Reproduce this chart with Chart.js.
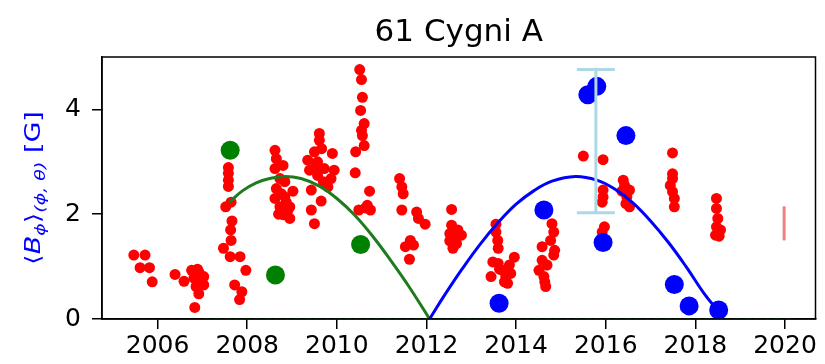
<!DOCTYPE html>
<html>
<head>
<meta charset="utf-8">
<script src="https://cdn.jsdelivr.net/npm/chart.js@4.4.1/dist/chart.umd.min.js"></script>
<style>
  html, body { margin: 0; padding: 0; background: #fff; }
  #chart { display: block; }
</style>
</head>
<body>
<canvas id="chart" width="825" height="364"></canvas>
<script>
// magnetic field measurements (small red dots)
const redYears = [
    2005.47, 2005.72, 2005.61, 2005.82, 2005.88, 2006.39, 2006.59, 2006.76, 2006.89, 2006.92,
    2006.81, 2006.98, 2007.03, 2006.86, 2007.03, 2006.92, 2006.83,
    2007.58, 2007.58, 2007.58, 2007.58, 2007.52, 2007.64, 2007.66, 2007.63, 2007.64,
    2007.47, 2007.62, 2007.84, 2007.97, 2007.72, 2007.88, 2007.83,
    2008.62, 2008.65, 2008.80, 2008.62, 2008.73, 2008.84, 2008.65, 2009.02, 2008.76, 2008.84,
    2008.62, 2008.87, 2008.73, 2008.95, 2008.91, 2008.80, 2008.95, 2008.70, 2008.88,
    2009.61, 2009.61, 2009.50, 2009.90, 2009.35, 2009.57, 2009.39, 2009.72, 2009.94, 2009.57,
    2009.87, 2009.80, 2009.43, 2009.65, 2009.43, 2009.50, 2009.66, 2009.52, 2009.70,
    2010.51, 2010.55, 2010.57, 2010.53, 2010.61, 2010.57, 2010.61, 2010.42, 2010.55, 2010.41,
    2010.73, 2010.68, 2010.49, 2010.75, 2010.64,
    2011.40, 2011.45, 2011.48, 2011.45, 2011.78, 2011.82, 2011.97, 2011.64, 2011.53, 2011.71, 2011.62,
    2012.56, 2012.56, 2012.70, 2012.52, 2012.78, 2012.59, 2012.52, 2012.67, 2012.59,
    2013.55, 2013.55, 2013.59, 2013.60, 2013.48, 2013.60, 2013.44, 2013.70, 2013.77, 2013.81,
    2013.85, 2013.96, 2013.88, 2013.74, 2013.63,
    2014.80, 2014.84, 2014.77, 2014.58, 2014.86, 2014.84, 2014.58, 2014.69, 2014.51, 2014.62,
    2014.64, 2014.66,
    2015.50, 2015.94, 2015.94, 2015.94, 2015.92, 2015.97, 2015.92,
    2016.39, 2016.42, 2016.53, 2016.36, 2016.47, 2016.45, 2016.53,
    2017.49, 2017.49, 2017.49, 2017.44, 2017.49, 2017.53, 2017.53,
    2018.47, 2018.47, 2018.50, 2018.47, 2018.56, 2018.45, 2018.53
];
const redVals = [
    1.22, 1.22, 0.98, 0.98, 0.71, 0.85, 0.72, 0.93, 0.95, 0.90,
    0.78, 0.71, 0.81, 0.62, 0.65, 0.48, 0.22,
    2.89, 2.78, 2.65, 2.53, 2.14, 2.23, 1.87, 1.70, 1.50,
    1.35, 1.19, 1.19, 0.93, 0.65, 0.52, 0.37,
    3.22, 3.06, 2.93, 2.87, 2.68, 2.62, 2.49, 2.44, 2.39, 2.33,
    2.30, 2.23, 2.14, 2.14, 2.08, 1.99, 1.92, 2.00, 2.02,
    3.54, 3.41, 3.19, 3.16, 3.03, 3.00, 2.84, 2.87, 2.84, 2.74,
    2.68, 2.52, 2.46, 2.25, 2.08, 1.82, 3.25, 2.90, 2.62,
    4.76, 4.57, 4.23, 3.98, 3.73, 3.50, 3.31, 3.19, 3.60, 2.79,
    2.44, 2.17, 2.08, 2.08, 2.12,
    2.68, 2.52, 2.39, 2.08, 2.04, 1.92, 1.81, 1.50, 1.38, 1.41, 1.14,
    2.09, 1.79, 1.70, 1.63, 1.60, 1.54, 1.49, 1.44, 1.35,
    1.81, 1.66, 1.50, 1.35, 1.09, 1.06, 0.81, 0.93, 0.81, 0.68,
    1.03, 1.18, 0.87, 0.71, 0.95,
    1.82, 1.66, 1.50, 1.38, 1.31, 1.22, 1.12, 1.03, 0.93, 0.81,
    0.71, 0.62,
    3.11, 3.04, 2.46, 2.33, 2.23, 1.76, 1.66,
    2.65, 2.55, 2.46, 2.44, 2.33, 2.20, 2.14,
    3.17, 2.77, 2.68, 2.55, 2.43, 2.30, 2.14,
    2.30, 2.11, 1.92, 1.76, 1.70, 1.60, 1.58
];

// ZDI maps, first and second cycle
const greenYears = [2007.62, 2008.63, 2010.53];
const greenVals = [3.22, 0.84, 1.42];
const blueYears = [2013.62, 2014.62, 2015.60, 2015.80, 2016.45, 2015.94, 2017.53, 2017.86, 2018.52];
const blueVals = [0.30, 2.08, 4.28, 4.44, 3.50, 1.46, 0.66, 0.25, 0.17];

// cycle fits
const greenFitYears = [2007.60, 2007.90, 2008.20, 2008.50, 2008.84, 2009.20, 2009.60, 2010.00, 2010.40, 2010.80, 2011.20, 2011.60, 2012.07];
const greenFitVals = [2.23, 2.45, 2.60, 2.68, 2.72, 2.68, 2.54, 2.30, 1.98, 1.58, 1.12, 0.63, 0.00];
const blueFitYears = [2012.07, 2012.40, 2012.80, 2013.20, 2013.60, 2014.00, 2014.40, 2014.80, 2015.32, 2015.80, 2016.20, 2016.60, 2017.00, 2017.40, 2017.80, 2018.20, 2018.50];
const blueFitVals = [0.00, 0.45, 0.96, 1.43, 1.84, 2.19, 2.45, 2.63, 2.72, 2.65, 2.48, 2.22, 1.87, 1.46, 0.99, 0.48, 0.16];
const baseYears = [2007.05, 2020.20];
const baseVals = [0, 0];

// error bars: typical ZDI spread and typical dot spread
const errYears = [2015.78, 2019.98];
const errLow = [2.03, 1.50];
const errHigh = [4.76, 2.15];

const xTicks = [2006, 2008, 2010, 2012, 2014, 2016, 2018, 2020];
const yTicks = [0, 2, 4];

const pts = (xs, ys) => xs.map((x, i) => ({ x: x, y: ys[i] }));

const overlay = {
    id: 'overlay',
    afterDatasetsDraw(chart) {
        const ctx = chart.ctx;
        const xs = chart.scales.x, ys = chart.scales.y;
        const colors = ['#add8e6', '#f08080'];
        const caps = [19, 0];
        ctx.save();
        ctx.lineWidth = 3;
        errYears.forEach((yr, i) => {
            const px = xs.getPixelForValue(yr);
            const lo = ys.getPixelForValue(errLow[i]);
            const hi = ys.getPixelForValue(errHigh[i]);
            ctx.strokeStyle = colors[i];
            ctx.beginPath();
            ctx.moveTo(px, lo);
            ctx.lineTo(px, hi);
            if (caps[i]) {
                ctx.moveTo(px - caps[i], lo);
                ctx.lineTo(px + caps[i], lo);
                ctx.moveTo(px - caps[i], hi);
                ctx.lineTo(px + caps[i], hi);
            }
            ctx.stroke();
        });
        ctx.restore();
    },
    afterDraw(chart) {
        const ctx = chart.ctx;
        const a = chart.chartArea;
        ctx.save();
        // frame
        ctx.strokeStyle = '#000';
        ctx.lineWidth = 1.5;
        ctx.strokeRect(a.left, a.top, a.right - a.left, a.bottom - a.top);

        // title
        ctx.fillStyle = '#000';
        ctx.font = '31px "DejaVu Sans"';
        ctx.textAlign = 'center';
        ctx.textBaseline = 'alphabetic';
        ctx.fillText('61 Cygni A', (a.left + a.right) / 2, 41);

        // y label with subscripts, slightly narrow glyphs
        const big = '27px "DejaVu Sans"', bigIt = 'italic 27px "DejaVu Sans"';
        const sub = 'italic 19px "DejaVu Sans"';
        const parts = [
            { t: '\u27E8', f: big, dy: 0 },
            { t: 'B', f: bigIt, dy: 0 },
            { t: '\u03D5', f: sub, dy: 6 },
            { t: '\u27E9', f: big, dy: 0 },
            { t: '(\u03D5, \u03B8)', f: sub, dy: 6 },
            { t: ' [G]', f: big, dy: 0 }
        ];
        let total = 0;
        parts.forEach(p => { ctx.font = p.f; p.w = ctx.measureText(p.t).width; total += p.w; });
        ctx.translate(40, (a.top + a.bottom) / 2);
        ctx.rotate(-Math.PI / 2);
        ctx.scale(1, 0.78);
        ctx.fillStyle = '#0000ff';
        ctx.textAlign = 'left';
        let cx = -total / 2;
        parts.forEach(p => {
            ctx.font = p.f;
            ctx.fillText(p.t, cx, p.dy);
            cx += p.w;
        });
        ctx.restore();
    }
};

const chart = document.querySelector('#chart').getContext('2d');

new Chart(chart, {
    type: 'scatter',
    data: {
        datasets: [
            {
                label: 'ZDI cycle 2',
                data: pts(blueYears, blueVals),
                backgroundColor: '#0000ff',
                pointRadius: 9.5,
                pointBorderWidth: 0
            },
            {
                label: 'ZDI cycle 1',
                data: pts(greenYears, greenVals),
                backgroundColor: '#008000',
                pointRadius: 9.5,
                pointBorderWidth: 0
            },
            {
                label: 'fit 2',
                data: pts(blueFitYears, blueFitVals),
                showLine: true,
                borderColor: '#0000ff',
                borderWidth: 3,
                pointRadius: 0,
                tension: 0.4
            },
            {
                label: 'fit 1',
                data: pts(greenFitYears, greenFitVals),
                showLine: true,
                borderColor: '#1e7b1e',
                borderWidth: 3,
                pointRadius: 0,
                tension: 0.4
            },
            {
                label: 'dots',
                data: pts(redYears, redVals),
                backgroundColor: '#ff0000',
                pointRadius: 5.5,
                pointBorderWidth: 0
            },
            {
                label: 'base',
                data: pts(baseYears, baseVals),
                showLine: true,
                borderColor: '#1e7b1e',
                borderWidth: 1.5,
                borderDash: [6, 4],
                pointRadius: 0
            }
        ]
    },
    options: {
        responsive: false,
        devicePixelRatio: 1,
        animation: false,
        layout: { padding: { top: 57, right: 3, left: 0, bottom: 0 } },
        plugins: {
            legend: { display: false },
            tooltip: { enabled: false },
            title: { display: false }
        },
        scales: {
            x: {
                type: 'linear',
                min: 2004.76,
                max: 2020.68,
                afterBuildTicks: s => { s.ticks = xTicks.map(v => ({ value: v })); },
                afterFit: s => { s.height = 45; },
                border: { color: '#000', width: 1.5 },
                grid: { drawOnChartArea: false, drawTicks: true, tickLength: 10, color: '#000', lineWidth: 1.5 },
                ticks: {
                    color: '#000',
                    padding: 2,
                    maxRotation: 0,
                    font: { family: 'DejaVu Sans', size: 25 },
                    callback: v => String(v)
                }
            },
            y: {
                min: 0,
                max: 5,
                afterBuildTicks: s => { s.ticks = yTicks.map(v => ({ value: v })); },
                afterFit: s => { s.width = 102; },
                border: { color: '#000', width: 1.5 },
                grid: { drawOnChartArea: false, drawTicks: true, tickLength: 10, color: '#000', lineWidth: 1.5 },
                ticks: {
                    color: '#000',
                    padding: 11,
                    font: { family: 'DejaVu Sans', size: 25 },
                    callback: v => String(v)
                }
            }
        }
    },
    plugins: [overlay]
});
</script>
</body>
</html>
